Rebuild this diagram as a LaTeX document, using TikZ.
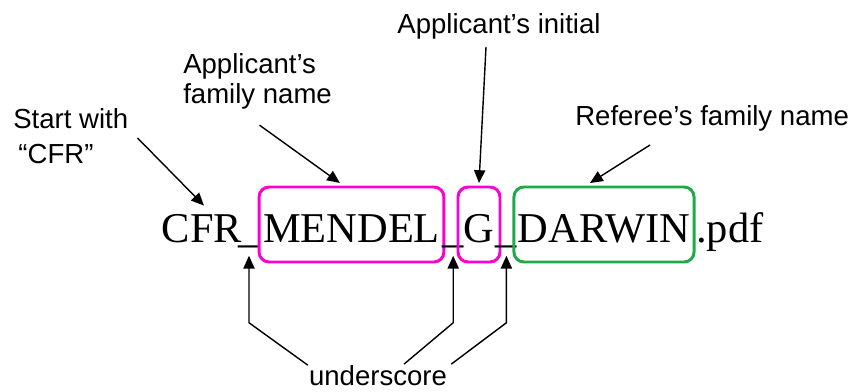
\documentclass[tikz,border=0pt]{standalone}
\usepackage{fontspec}
\setmainfont{Liberation Serif}
\newfontfamily\notefamily{Liberation Sans}
\usepackage{tikz}
\usetikzlibrary{arrows.meta}
\definecolor{pinkbox}{RGB}{250,0,210}
\definecolor{greenbox}{RGB}{30,170,70}
\newcommand{\wordfont}{\fontsize{30.2}{36}\selectfont}
\newcommand{\notefont}{\notefamily\fontsize{19.6}{21.3}\selectfont}
\tikzstyle{word} = [font=\wordfont, inner sep=0, anchor=base]
\tikzstyle{namebox} = [word, draw, line width=2.1pt, rounded corners=0.25cm,
    inner xsep=0.1cm, text height=1.375cm, text depth=0.5cm, outer sep=0.1cm]
\tikzstyle{note} = [font=\notefont, inner sep=0, align=left]
\tikzstyle{line} = [draw, line width=1pt, -{Triangle[length=0.32cm,width=0.28cm]}]

\begin{document}
\begin{tikzpicture}
    \useasboundingbox (0,0) rectangle (21.475,9.775);
    % file name
    \node [word] at (5.05,3.725) (cfr) {CFR};
    \node [word] at (6.225,3.725) (u1) {\_};
    \node [namebox, pinkbox, text=black] at (8.7875,3.725) (mendel) {MENDEL};
    \node [word] at (11.33,3.725) (u2) {\_};
    \node [namebox, pinkbox, text=black, minimum width=1.05cm] at (11.975,3.725) (g) {G};
    \node [word] at (12.66,3.725) (u3) {\_};
    \node [namebox, greenbox, text=black] at (15.1,3.725) (darwin) {DARWIN};
    \node [word, anchor=base west] at (17.4,3.725) (pdf) {.pdf};
    % notes
    \node [note, anchor=north west] at (0.325,7.075) (start) {Start with\\[3.6pt]\hspace*{0.13cm}“CFR”};
    \node [note, anchor=north west] at (4.575,8.45) (famname) {Applicant’s\\family name};
    \node [note, anchor=base] at (12.475,8.95) (initial) {Applicant’s initial};
    \node [note, anchor=base west] at (14.375,6.65) (referee) {Referee’s family name};
    \node [note, anchor=base] at (9.45,0.14) (us) {underscore};
    % arrows
    \path [line] ([xshift=0.225cm,yshift=-0.05cm]start.east) -- ([xshift=0.05cm,yshift=0.2cm]cfr.north);
    \path [line] ([xshift=0.05cm,yshift=-0.4cm]famname.south) -- ([xshift=-0.29cm]mendel.north);
    \path [line] ([xshift=-0.325cm,yshift=-0.2cm]initial.south) -- (g.north);
    \path [line] ([xshift=1.875cm,yshift=-0.35cm]referee.south west) -- ([xshift=-0.35cm]darwin.north);
    \path [line] ([xshift=-0.025cm,yshift=0.0cm]us.north west) -- ([yshift=-1.875cm]u1.south) -- ([yshift=-0.2cm]u1.south);
    \path [line] ([xshift=0.65cm,yshift=0.025cm]us.north) -- ([yshift=-1.875cm]u2.south) -- ([yshift=-0.2cm]u2.south);
    \path [line] ([xshift=0.1cm,yshift=0.025cm]us.north east) -- ([yshift=-1.875cm]u3.south) -- ([yshift=-0.2cm]u3.south);
\end{tikzpicture}
\end{document}
